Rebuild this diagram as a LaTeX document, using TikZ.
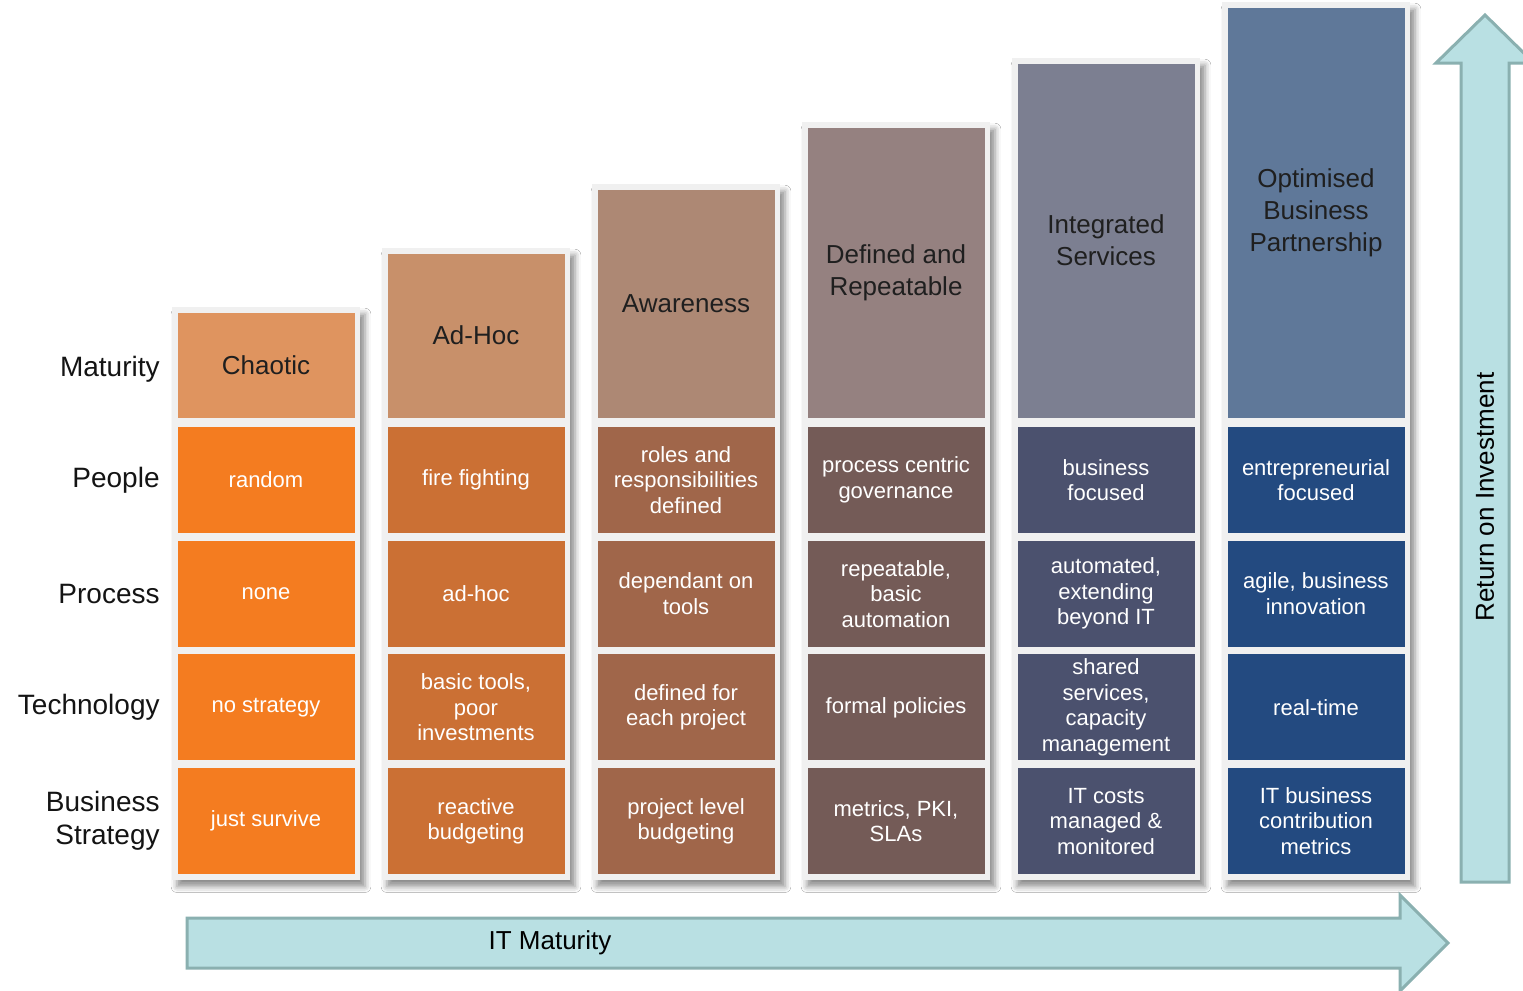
\documentclass[tikz,border=0pt]{standalone}
\usepackage{fontspec}
\setmainfont{Liberation Sans}
\usetikzlibrary{fit,backgrounds,shadows.blur}

\definecolor{head0}{HTML}{DF945F}
\definecolor{head1}{HTML}{C8906A}
\definecolor{head2}{HTML}{AD8874}
\definecolor{head3}{HTML}{958180}
\definecolor{head4}{HTML}{7C7F91}
\definecolor{head5}{HTML}{5F7899}
\definecolor{cell0}{HTML}{F47C20}
\definecolor{cell1}{HTML}{CB7034}
\definecolor{cell2}{HTML}{A0664A}
\definecolor{cell3}{HTML}{745B57}
\definecolor{cell4}{HTML}{4B516E}
\definecolor{cell5}{HTML}{234A80}
\definecolor{framegray}{HTML}{F0F0F0}
\definecolor{arrowfill}{HTML}{B9E0E3}
\definecolor{arrowline}{HTML}{8AB0B0}

\tikzset{
  cell/.style={minimum width=88.5pt, minimum height=53pt, inner sep=0pt,
    align=center, text=white, font=\fontsize{11}{12.75}\selectfont},
  headbox/.style={minimum width=88.5pt, inner sep=0pt, anchor=south,
    align=center, text=black!88, font=\fontsize{13}{16}\selectfont},
  rowlabel/.style={anchor=east, align=right, inner sep=0pt, text=black!92,
    font=\fontsize{14}{16.5}\selectfont},
  colframe/.style={fill=framegray, inner sep=2.5pt,
    blur shadow={shadow xshift=2.5pt, shadow yshift=-3.5pt,
      shadow blur radius=3pt, shadow opacity=45}},
  bigarrow/.style={fill=arrowfill, draw=arrowline, line width=1.5pt, line join=miter}
}

\begin{document}
\begin{tikzpicture}[x=0.5pt, y=-0.5pt]
    \def\x{210}
    \def\xo{266}
    \def\y{113.7}
    \def\yo{480}
    \clip (0,0) rectangle (1523,991);

    % row titles
    \node[rowlabel] (L0) at (160, 369) {Maturity};
    \node[rowlabel] (L1) at (160, 0*\y+\yo) {People};
    \node[rowlabel] (L2) at (160, 1*\y+\yo) {Process};
    \node[rowlabel] (L3) at (160, 2*\y+\yo) {Technology};
    \node[rowlabel] (L4) at (160, 3*\y+\yo) {Business\\Strategy};

    % maturity levels
    \node[headbox, fill=head0, minimum height=52.5pt] (A0_0) at (0*\x+\xo, 418) {Chaotic};
    \node[headbox, fill=head1, minimum height=82pt] (A0_1) at (1*\x+\xo, 418) {Ad-Hoc};
    \node[headbox, fill=head2, minimum height=114pt] (A0_2) at (2*\x+\xo, 418) {Awareness};
    \node[headbox, fill=head3, minimum height=145pt] (A0_3) at (3*\x+\xo, 418) {Defined and\\Repeatable};
    \node[headbox, fill=head4, minimum height=177pt] (A0_4) at (4*\x+\xo, 418) {Integrated\\Services};
    \node[headbox, fill=head5, minimum height=205pt] (A0_5) at (5*\x+\xo, 418) {Optimised\\Business\\Partnership};

    % people
    \node[cell, fill=cell0] (A1_0) at (0*\x+\xo, 0*\y+\yo) {random};
    \node[cell, fill=cell1] (A1_1) at (1*\x+\xo, 0*\y+\yo) {fire fighting};
    \node[cell, fill=cell2] (A1_2) at (2*\x+\xo, 0*\y+\yo) {roles and\\responsibilities\\defined};
    \node[cell, fill=cell3] (A1_3) at (3*\x+\xo, 0*\y+\yo) {process centric\\governance};
    \node[cell, fill=cell4] (A1_4) at (4*\x+\xo, 0*\y+\yo) {business\\focused};
    \node[cell, fill=cell5] (A1_5) at (5*\x+\xo, 0*\y+\yo) {entrepreneurial\\focused};

    % process
    \node[cell, fill=cell0] (A2_0) at (0*\x+\xo, 1*\y+\yo) {none};
    \node[cell, fill=cell1] (A2_1) at (1*\x+\xo, 1*\y+\yo) {ad-hoc};
    \node[cell, fill=cell2] (A2_2) at (2*\x+\xo, 1*\y+\yo) {dependant on\\tools};
    \node[cell, fill=cell3] (A2_3) at (3*\x+\xo, 1*\y+\yo) {repeatable,\\basic\\automation};
    \node[cell, fill=cell4] (A2_4) at (4*\x+\xo, 1*\y+\yo) {automated,\\extending\\beyond IT};
    \node[cell, fill=cell5] (A2_5) at (5*\x+\xo, 1*\y+\yo) {agile, business\\innovation};

    % technology
    \node[cell, fill=cell0] (A3_0) at (0*\x+\xo, 2*\y+\yo) {no strategy};
    \node[cell, fill=cell1] (A3_1) at (1*\x+\xo, 2*\y+\yo) {basic tools,\\poor\\investments};
    \node[cell, fill=cell2] (A3_2) at (2*\x+\xo, 2*\y+\yo) {defined for\\each project};
    \node[cell, fill=cell3] (A3_3) at (3*\x+\xo, 2*\y+\yo) {formal policies};
    \node[cell, fill=cell4] (A3_4) at (4*\x+\xo, 2*\y+\yo) {shared\\services,\\capacity\\management};
    \node[cell, fill=cell5] (A3_5) at (5*\x+\xo, 2*\y+\yo) {real-time};

    % business strategy
    \node[cell, fill=cell0] (A4_0) at (0*\x+\xo, 3*\y+\yo) {just survive};
    \node[cell, fill=cell1] (A4_1) at (1*\x+\xo, 3*\y+\yo) {reactive\\budgeting};
    \node[cell, fill=cell2] (A4_2) at (2*\x+\xo, 3*\y+\yo) {project level\\budgeting};
    \node[cell, fill=cell3] (A4_3) at (3*\x+\xo, 3*\y+\yo) {metrics, PKI,\\SLAs};
    \node[cell, fill=cell4] (A4_4) at (4*\x+\xo, 3*\y+\yo) {IT costs\\managed \&\\monitored};
    \node[cell, fill=cell5] (A4_5) at (5*\x+\xo, 3*\y+\yo) {IT business\\contribution\\metrics};

    % white page and grey frames behind each column
    \begin{scope}[on background layer]
      \fill[white] (0,0) rectangle (1523,991);
      \node[colframe, fit=(A0_0)(A4_0)] (F0) {};
      \node[colframe, fit=(A0_1)(A4_1)] (F1) {};
      \node[colframe, fit=(A0_2)(A4_2)] (F2) {};
      \node[colframe, fit=(A0_3)(A4_3)] (F3) {};
      \node[colframe, fit=(A0_4)(A4_4)] (F4) {};
      \node[colframe, fit=(A0_5)(A4_5)] (F5) {};
    \end{scope}

    % big arrows
    \draw[bigarrow] (187,918) -- (1400,918) -- (1400,895) -- (1448,943)
      -- (1400,991) -- (1400,968) -- (187,968) -- cycle;
    \node[font=\fontsize{13}{15}\selectfont] (itm) at (550, 943) {IT Maturity};
    \draw[bigarrow] (1461,882) -- (1461,63) -- (1436,63) -- (1485,15)
      -- (1534,63) -- (1509,63) -- (1509,882) -- cycle;
    \node[rotate=90, font=\fontsize{13}{15}\selectfont] (roi) at (1485, 497) {Return on Investment};
  \end{tikzpicture}
\end{document}
